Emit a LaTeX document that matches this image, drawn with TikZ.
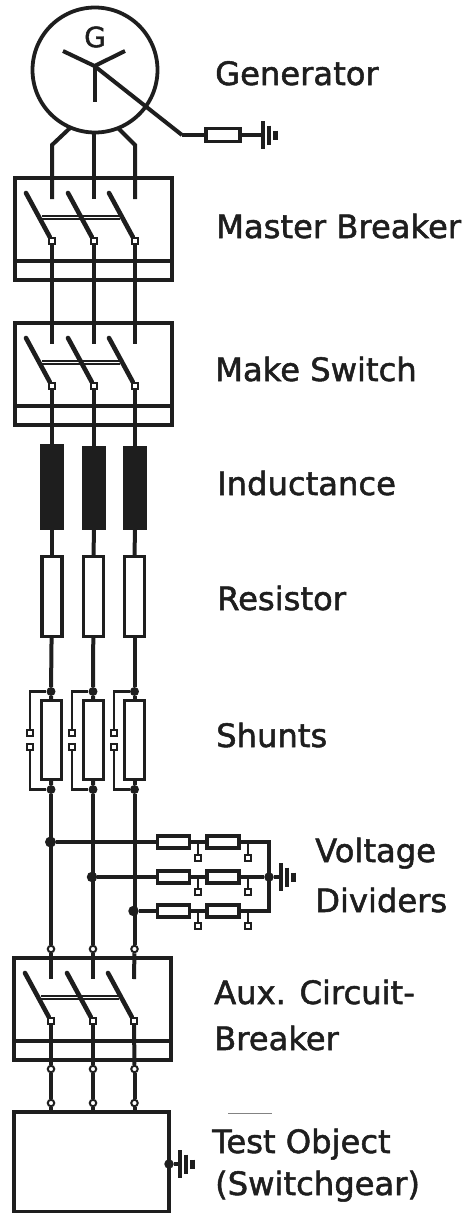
\documentclass[tikz,border=0pt]{standalone}
\usepackage{fontspec}
\setmainfont{DejaVu Sans}
\newfontfamily\labfont[FakeBold=1.6]{DejaVu Sans}
\definecolor{ink}{HTML}{1E1E1E}
\tikzset{
  wire/.style={draw=ink,line width=4pt},
  thinwire/.style={draw=ink,line width=2.4pt},
  plate/.style={draw=ink,line width=3.8pt},
  frame/.style={draw=ink,line width=3.7pt},
  res/.style={draw=ink,fill=white,line width=3.4pt,rectangle,inner sep=0pt,minimum width=#1},
  res/.default=20pt,
  hres/.style={draw=ink,fill=white,line width=3.2pt,rectangle,inner sep=0pt,minimum width=32pt,minimum height=12pt},
  ind/.style={draw=none,fill=ink,rectangle,inner sep=0pt,minimum width=24pt},
  jdot/.style={circle,fill=ink,inner sep=0pt,minimum size=#1},
  jdot/.default=8pt,
  sq/.style={draw=ink,fill=white,line width=2pt,rectangle,inner sep=0pt,minimum size=6pt},
  oc/.style={draw=ink,fill=white,line width=2pt,circle,inner sep=0pt,minimum size=6.5pt},
  lab/.style={anchor=base west,inner sep=0pt,text=ink,font=\labfont\fontsize{32.2}{32.2}\selectfont},
}
% #1 name, #2 x offset, #3 top y
\newcommand{\mybreaker}[3]{%
  \begin{scope}[shift={(#2,#3)}]
    \draw[frame] (15,0) rectangle (172,102);
    \draw[frame] (15,83) -- (172,83);
    \foreach \ph/\px in {a/52,b/94,c/135}{
      \node[sq] (#1sq\ph) at (\px,63) {};
      \coordinate (#1end\ph) at (\px,21);
      \coordinate (#1top\ph) at (\px,0);
      \coordinate (#1bl\ph) at ({\px-26},15);
      \coordinate (#1low\ph) at (\px,102);
    }
    \coordinate (#1bs) at (42,39.5);
    \coordinate (#1be) at (120,39.5);
    \draw[draw=ink,line width=4.6pt] (#1bs) -- (#1be);
    \draw[draw=white,line width=1.4pt] (#1bs) -- (#1be);
    \foreach \ph in {a,b,c}{
      \draw[draw=ink,line width=4.6pt,line cap=round] (#1bl\ph) -- (#1sq\ph);
      \node[sq] at (#1sq\ph) {};
    }
  \end{scope}}
% #1 name, #2 x, #3 y
\newcommand{\myearth}[3]{%
  \coordinate (#1p1) at (#2,#3);
  \draw[plate] ({#2},{#3-14}) -- ({#2},{#3+14});
  \draw[plate] ({#2+6},{#3-9.5}) -- ({#2+6},{#3+9.5});
  \draw[draw=ink,line width=4.4pt] ({#2+12.5},{#3-4.5}) -- ({#2+12.5},{#3+4.5});}
\begin{document}
\begin{tikzpicture}[x=1pt,y=-1pt]
\useasboundingbox (0,0) rectangle (465,1213);
% generator
\node[draw=ink,line width=3.8pt,circle,inner sep=0pt,minimum size=125pt] (gen) at (95,70) {};
\node[inner sep=0pt,text=ink,font=\labfont\fontsize{28}{28}\selectfont] (gname) at (95,37) {G};
\coordinate (star) at (94.5,66);
\coordinate (arma) at (63,51);
\coordinate (armb) at (125,51);
\coordinate (armc) at (94.5,102);
\coordinate (gbend) at (182,135);
\node[hres,minimum width=34pt,minimum height=13pt] (gres) at (223,135) {};
\draw[wire] (arma) -- (star) -- (armb);
\draw[wire] (star) -- (armc);
\draw[wire] (star) -- (gbend);
\draw[wire] (gbend) -- (gres);
\myearth{ge}{263}{135}
\draw[wire] (gres) -- (gep1);
% breakers
\mybreaker{ma}{0}{178}
\mybreaker{mk}{0}{323}
\mybreaker{ax}{-1}{958}
% generator leads
\coordinate (la) at (70,128); \coordinate (lak) at (52,145);
\coordinate (lb) at (94,132);
\coordinate (lc) at (118,128); \coordinate (lck) at (135,145);
\draw[wire] (la) -- (lak) -- (maenda);
\draw[wire] (lb) -- (maendb);
\draw[wire] (lc) -- (lck) -- (maendc);
% inductance, resistors, shunts
\node[ind,minimum height=86pt] (La) at (52,487) {};
\node[ind,minimum height=84pt] (Lb) at (94,488) {};
\node[ind,minimum height=84pt] (Lc) at (135,488) {};
\node[res=20pt,minimum height=80pt] (Ra) at (52,596.5) {};
\node[res=20pt,minimum height=80pt] (Rb) at (93.5,596.5) {};
\node[res=20pt,minimum height=80pt] (Rc) at (134.5,596.5) {};
\node[res=20pt,minimum height=79pt] (Sa) at (51.5,740) {};
\node[res=20pt,minimum height=79pt] (Sb) at (93.5,740) {};
\node[res=20pt,minimum height=79pt] (Sc) at (134.5,740) {};
\foreach \ph/\cx/\lx in {a/51/30,b/93/72,c/134.5/114}{
  \draw[wire] (masq\ph) -- (mkend\ph);
  \draw[wire] (mksq\ph) -- (L\ph);
  \draw[wire] (L\ph) -- (R\ph);
  \node[jdot=9pt] (Ut\ph) at (\cx,691.5) {};
  \node[jdot=9pt] (Ub\ph) at (\cx,789.5) {};
  \draw[wire] (R\ph) -- (Ut\ph);
  \draw[wire] (Ut\ph) -- (S\ph);
  \draw[wire] (S\ph) -- (Ub\ph);
  \node[sq] (Qt\ph) at (\lx,733) {};
  \node[sq] (Qb\ph) at (\lx,747) {};
  \draw[thinwire] (Ut\ph) -| (Qt\ph);
  \draw[thinwire] (Ub\ph) -| (Qb\ph);
  \node[oc] (Oa\ph) at (\cx,949) {};
  \node[oc] (Ob\ph) at (\cx,1069) {};
  \node[oc] (Oc\ph) at (\cx,1103) {};
}
% voltage dividers
\node[jdot=11pt] (Da) at (50.5,842) {};
\node[jdot=10.5pt] (Db) at (92,877) {};
\node[jdot=10.5pt] (Dc) at (133.5,911) {};
\coordinate (Ea) at (269,842);
\node[jdot=9.5pt] (Eb) at (269,877) {};
\coordinate (Ec) at (269,911);
\foreach \ph/\cx in {a/51,b/93,c/134.5}{
  \draw[wire] (Ub\ph) -- (Oa\ph);
}
\foreach \r/\yy/\sy in {a/842/858,b/877/892,c/911/926}{
  \node[hres] (Va\r) at (173.5,\yy) {};
  \node[hres] (Vb\r) at (223,\yy) {};
  \node[sq] (Ta\r) at (198,\sy) {};
  \node[sq] (Tb\r) at (248,\sy) {};
  \coordinate (Ja\r) at (198,\yy);
  \coordinate (Jb\r) at (248,\yy);
  \draw[thinwire] (Ja\r) -- (Ta\r);
  \draw[thinwire] (Jb\r) -- (Tb\r);
  \draw[wire] (D\r) -- (Va\r);
  \draw[wire] (Va\r) -- (Vb\r);
  \draw[wire] (Vb\r) -- (E\r);
}
\draw[wire,line cap=rect] (Ea) -- (Eb);
\draw[wire,line cap=rect] (Eb) -- (Ec);
\myearth{ve}{281}{877}
\draw[wire] (Eb) -- (vep1);
% aux connections and test object
\node[draw=ink,line width=3.7pt,rectangle,inner sep=0pt,minimum width=155pt,minimum height=100pt] (test) at (91.5,1162) {};
\foreach \ph in {a,b,c}{
  \draw[wire] (Oa\ph) -- (axend\ph);
  \draw[wire] (axsq\ph) -- (Ob\ph);
  \draw[wire] (Ob\ph) -- (Oc\ph);
  \draw[wire] (Oc\ph) -- (test.north -| Oc\ph);
}
\node[jdot=9.5pt] (tg) at (169,1164) {};
\myearth{te}{180}{1164}
\draw[wire] (tg) -- (tep1);
% faint stroke above the last label
\coordinate (fa) at (228,1113);
\coordinate (fb) at (272,1113);
\draw[draw=ink!55,line width=0.9pt] (fa) -- (fb);
% labels
\node[lab] (t1) at (215,85) {Generator};
\node[lab] (t2) at (216,238) {Master Breaker};
\node[lab] (t3) at (215,381) {Make Switch};
\node[lab] (t4) at (217,495) {Inductance};
\node[lab] (t5) at (217,610) {Resistor};
\node[lab] (t6) at (216,747) {Shunts};
\node[lab] (t7) at (315,862) {Voltage};
\node[lab] (t8) at (315,912) {Dividers};
\node[lab] (t9) at (214,1004) {Aux. Circuit-};
\node[lab] (t10) at (214,1050) {Breaker};
\node[lab] (t11) at (212,1153) {Test Object};
\node[lab] (t12) at (215,1195) {(Switchgear)};
\end{tikzpicture}
\end{document}
